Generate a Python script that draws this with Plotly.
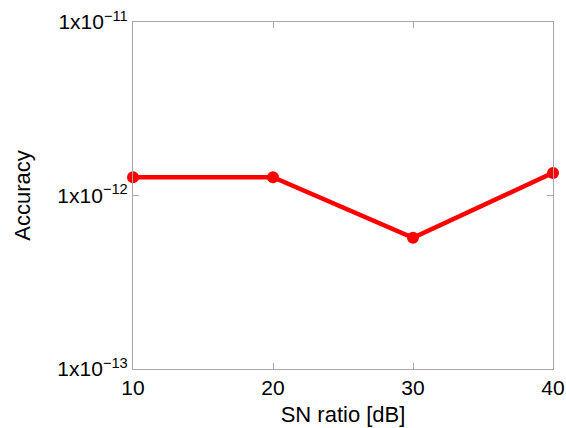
import plotly.graph_objects as go

sn_ratio = [10, 20, 30, 40]
accuracy = [1.275e-12, 1.275e-12, 0.570e-12, 1.35e-12]
y_tick_vals = [1e-13, 1e-12, 1e-11]
y_tick_text = ["1x10<sup>−13</sup>", "1x10<sup>−12</sup>", "1x10<sup>−11</sup>"]
x_tick_vals = [10, 20, 30, 40]

fig = go.Figure()
fig.add_trace(go.Scatter(
    x=sn_ratio, y=accuracy, mode="lines+markers",
    line=dict(color="#ff0000", width=4.5),
    marker=dict(color="#ff0000", size=12),
    showlegend=False, cliponaxis=False,
))

axis_common = dict(
    showline=True, linecolor="#a8a8a8", linewidth=1, mirror="ticks",
    ticks="inside", ticklen=6, tickcolor="#a8a8a8", tickwidth=1,
    showgrid=False, zeroline=False, automargin=False,
    tickfont=dict(family="Liberation Sans, Arial, sans-serif", size=21, color="#000"),
    title_font=dict(family="Liberation Sans, Arial, sans-serif", size=22, color="#000"),
)

fig.update_layout(
    width=566, height=428,
    margin=dict(l=133, r=13, t=22, b=59),
    paper_bgcolor="white", plot_bgcolor="white",
    xaxis=dict(range=[10, 40], tickvals=x_tick_vals, title=dict(text="SN ratio [dB]", standoff=8), **axis_common),
    yaxis=dict(type="log", range=[-13, -11], tickvals=y_tick_vals, ticktext=y_tick_text,
               title=dict(text="Accuracy", standoff=20), **axis_common),
)

fig.write_html("out.html", config={"displayModeBar": False},
               post_script="document.body.style.margin='0';document.body.style.overflow='hidden';")
